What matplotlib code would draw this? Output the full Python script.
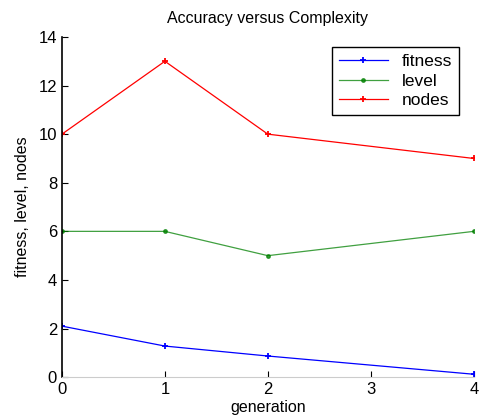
import matplotlib
matplotlib.use("Agg")
import matplotlib.pyplot as plt

plt.rcParams['font.family'] = ['Liberation Sans', 'DejaVu Sans']

generation = [0, 1, 2, 4]
fitness = [2.1, 1.28, 0.87, 0.12]
level = [6, 6, 5, 6]
nodes = [10, 13, 10, 9]

fig = plt.figure(figsize=(4.8, 4.2), dpi=100)
ax = fig.add_axes([0.129, 0.102, 0.858, 0.81])

ax.plot(generation, fitness, color='blue', marker='+', markersize=5, mew=1.3, lw=0.9, label='fitness')
ax.plot(generation, level, color='green', marker='.', markersize=5, lw=0.9, label='level', alpha=0.75)
ax.plot(generation, nodes, color='red', marker='+', markersize=5, mew=1.3, lw=0.9, label='nodes')

ax.set_xlim(0, 4)
ax.set_ylim(0, 14)
ax.set_xticks([0, 1, 2, 3, 4])
ax.set_yticks(range(0, 15, 2))
ax.tick_params(direction='in', length=4, labelsize=12)
for s in ['top', 'right']:
    ax.spines[s].set_visible(False)
ax.spines['bottom'].set_color('#cccccc')
ax.spines['left'].set_linewidth(1.2)

ax.set_title('Accuracy versus Complexity', fontsize=11.5, pad=10)
ax.set_xlabel('generation', fontsize=11.5, labelpad=2)
ax.set_ylabel('fitness, level, nodes', fontsize=11.5, labelpad=6)

leg = ax.legend(loc='upper right', bbox_to_anchor=(0.985, 0.995), fontsize=12.5,
                fancybox=False, framealpha=1, edgecolor='black', handlelength=2.8,
                borderpad=0.4, labelspacing=0.25)
leg.get_frame().set_linewidth(1)

fig.savefig('out.png', dpi=100)
